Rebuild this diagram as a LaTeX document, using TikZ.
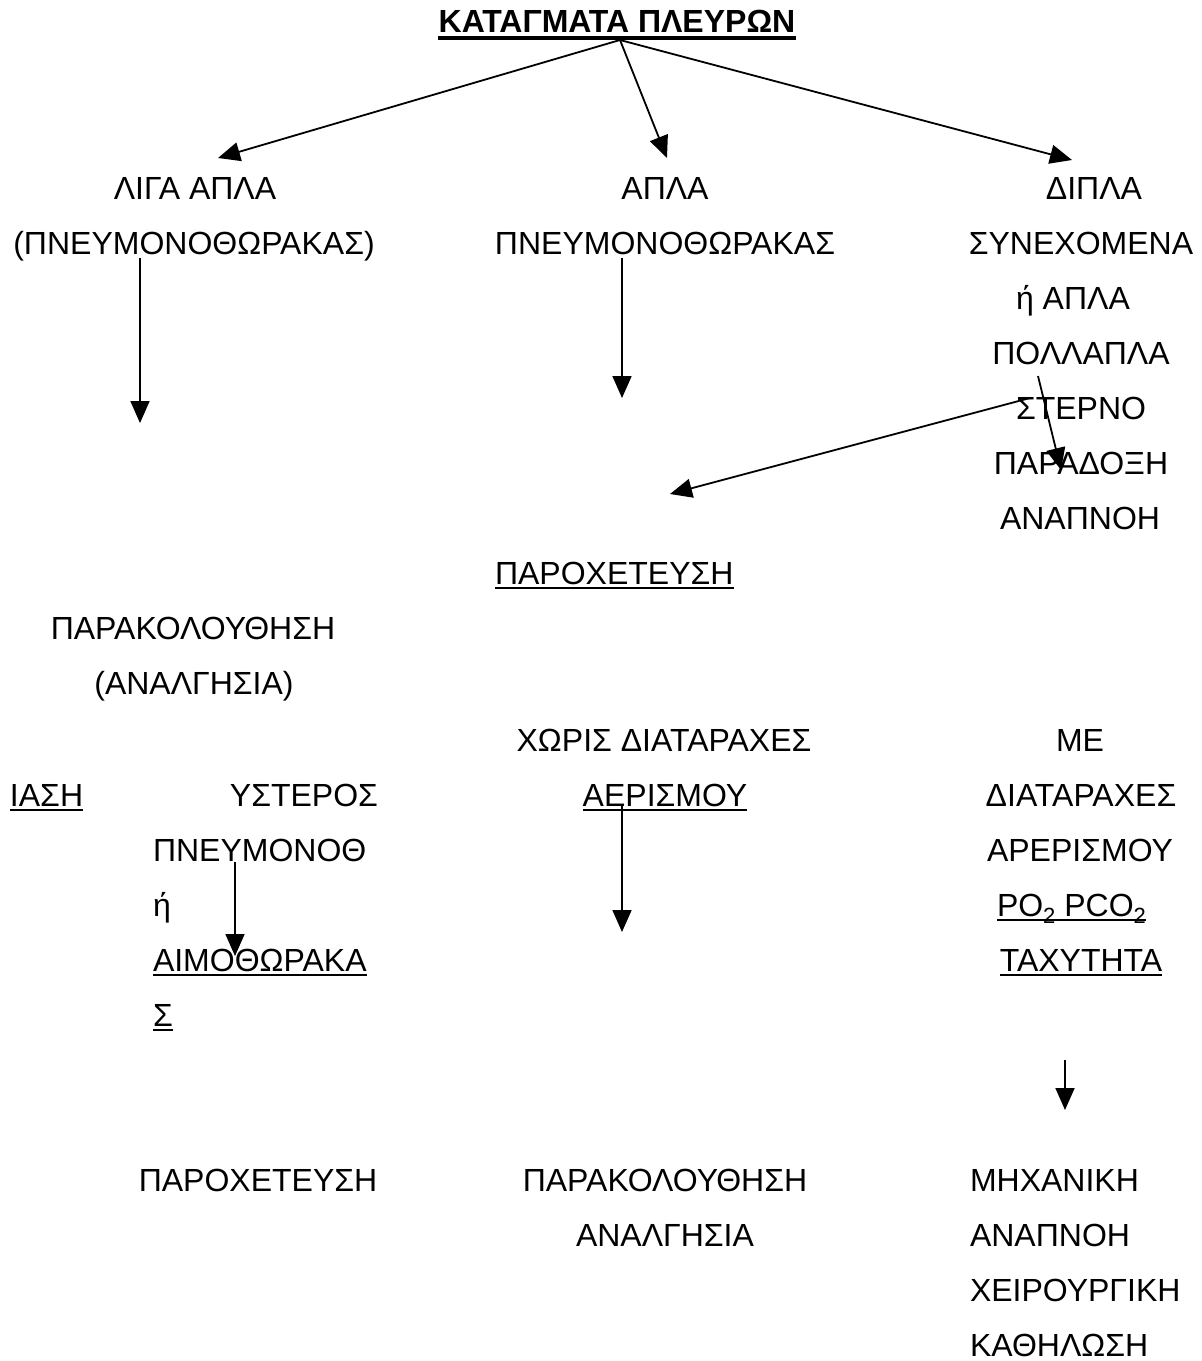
\documentclass[tikz,border=0pt]{standalone}
\usepackage{fontspec}
\setmainfont{Liberation Sans}
\usetikzlibrary{arrows.meta}
\newcommand\subtwo{\raisebox{-3.5pt}{\fontsize{11}{11}\selectfont 2}}
\begin{document}
\begin{tikzpicture}[x=0.5pt,y=-0.5pt,
  txt/.style={inner sep=0pt,outer sep=0pt,font=\fontsize{16}{16}\selectfont,anchor=base},
  lt/.style={txt,anchor=base west},
  rt/.style={txt,anchor=base east},
  ttl/.style={inner sep=0pt,font=\fontsize{16}{16}\selectfont\bfseries,anchor=base},
  ulline/.style={line width=1pt},
  arr/.style={line width=0.9pt,-{Triangle[length=11pt,width=9.5pt]}}]
\useasboundingbox (0,0) rectangle (1202,1361);
% title
\node[ttl] (title) at (617,32) {ΚΑΤΑΓΜΑΤΑ ΠΛΕΥΡΩΝ};
\draw[line width=1.6pt] ([yshift=-3pt]title.base west) -- ([yshift=-3pt]title.base east);
% left column
\node[txt] (l1) at (195,199) {ΛΙΓΑ ΑΠΛΑ};
\node[txt] (l2) at (194,254) {(ΠΝΕΥΜΟΝΟΘΩΡΑΚΑΣ)};
\node[txt] (l3) at (193,639) {ΠΑΡΑΚΟΛΟΥΘΗΣΗ};
\node[txt] (l4) at (194,694) {(ΑΝΑΛΓΗΣΙΑ)};
\node[lt] (iasi) at (10,806) {ΙΑΣΗ};
\draw[ulline] ([yshift=-2pt]iasi.base west) -- ([yshift=-2pt]iasi.base east);
\node[rt] (y1) at (378,806) {ΥΣΤΕΡΟΣ};
\node[lt] (y2) at (153,861) {ΠΝΕΥΜΟΝΟΘ};
\node[lt] (y3) at (153,916) {ή};
\node[lt] (y4) at (153,971) {ΑΙΜΟΘΩΡΑΚΑ};
\draw[ulline] ([yshift=-2pt]y4.base west) -- ([yshift=-2pt]y4.base east);
\node[lt] (y5) at (153,1026) {Σ};
\draw[ulline] ([yshift=-2pt]y5.base west) -- ([yshift=-2pt]y5.base east);
\node[txt] (lb) at (258,1191) {ΠΑΡΟΧΕΤΕΥΣΗ};
% middle column
\node[txt] (m1) at (665,199) {ΑΠΛΑ};
\node[txt] (m2) at (665,254) {ΠΝΕΥΜΟΝΟΘΩΡΑΚΑΣ};
\node[lt] (m3) at (495,584) {ΠΑΡΟΧΕΤΕΥΣΗ};
\draw[ulline] ([yshift=-2pt]m3.base west) -- ([yshift=-2pt]m3.base east);
\node[txt] (m4) at (664,751) {ΧΩΡΙΣ ΔΙΑΤΑΡΑΧΕΣ};
\node[txt] (m5) at (665,806) {ΑΕΡΙΣΜΟΥ};
\draw[ulline] ([yshift=-2pt]m5.base west) -- ([yshift=-2pt]m5.base east);
\node[txt] (m6) at (665,1191) {ΠΑΡΑΚΟΛΟΥΘΗΣΗ};
\node[txt] (m7) at (665,1246) {ΑΝΑΛΓΗΣΙΑ};
% right column
\node[txt] (r1) at (1094,199) {ΔΙΠΛΑ};
\node[txt] (r2) at (1081,254) {ΣΥΝΕΧΟΜΕΝΑ};
\node[txt] (r3) at (1073,309) {ή ΑΠΛΑ};
\node[txt] (r4) at (1081,364) {ΠΟΛΛΑΠΛΑ};
\node[txt] (r5) at (1081,419) {ΣΤΕΡΝΟ};
\node[txt] (r6) at (1081,474) {ΠΑΡΑΔΟΞΗ};
\node[txt] (r7) at (1080,529) {ΑΝΑΠΝΟΗ};
\node[txt] (r8) at (1080,751) {ΜΕ};
\node[txt] (r9) at (1081,806) {ΔΙΑΤΑΡΑΧΕΣ};
\node[txt] (r10) at (1080,861) {ΑΡΕΡΙΣΜΟΥ};
\node[lt] (r11) at (997,916) {PO\subtwo{} PCO\subtwo};
\draw[ulline] ([yshift=-2pt]r11.base west) -- ([yshift=-2pt]r11.base east);
\node[txt] (r12) at (1081,971) {ΤΑΧΥΤΗΤΑ};
\draw[ulline] ([yshift=-2pt]r12.base west) -- ([yshift=-2pt]r12.base east);
\node[lt] (rb1) at (970,1191) {ΜΗΧΑΝΙΚΗ};
\node[lt] (rb2) at (970,1246) {ΑΝΑΠΝΟΗ};
\node[lt] (rb3) at (970,1301) {ΧΕΙΡΟΥΡΓΙΚΗ};
\node[lt] (rb4) at (970,1356) {ΚΑΘΗΛΩΣΗ};
% arrow end points
\coordinate (t0) at (620,40);
\coordinate (a1) at (218,158);
\coordinate (a2) at (667,158);
\coordinate (a3) at (1072,160);
\coordinate (s4) at (140,258);
\coordinate (e4) at (140,423);
\coordinate (s5) at (622,258);
\coordinate (e5) at (622,398);
\coordinate (s6) at (1038,376);
\coordinate (e6) at (1061,470);
\coordinate (s7) at (1030,398);
\coordinate (e7) at (670,494);
\coordinate (s8) at (622,806);
\coordinate (e8) at (622,932);
\coordinate (s9) at (235,862);
\coordinate (e9) at (235,956);
\coordinate (s10) at (1065,1060);
\coordinate (e10) at (1065,1110);
\draw[arr] (t0) -- (a1);
\draw[arr] (t0) -- (a2);
\draw[arr] (t0) -- (a3);
\draw[arr] (s4) -- (e4);
\draw[arr] (s5) -- (e5);
\draw[arr] (s6) -- (e6);
\draw[arr] (s7) -- (e7);
\draw[arr] (s8) -- (e8);
\draw[arr] (s9) -- (e9);
\draw[arr] (s10) -- (e10);
\end{tikzpicture}
\end{document}
